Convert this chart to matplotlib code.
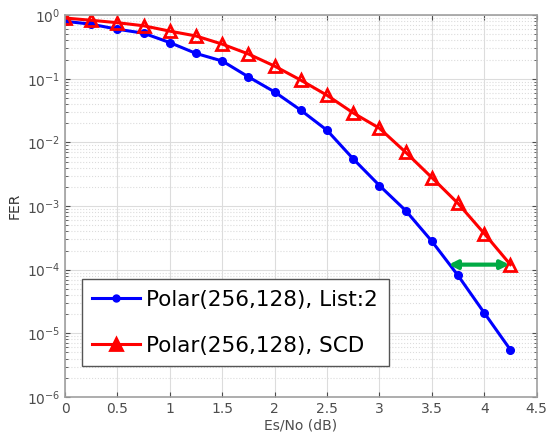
import numpy as np
import matplotlib
matplotlib.use("Agg")
import matplotlib.pyplot as plt

# Es/No points (dB) and FER values
snr_db = [0, 0.25, 0.5, 0.75, 1.0, 1.25, 1.5, 1.75, 2.0, 2.25,
          2.5, 2.75, 3.0, 3.25, 3.5, 3.75, 4.0, 4.25]
fer_list2 = [0.80, 0.72, 0.60, 0.52, 0.37, 0.25, 0.19, 0.107, 0.062, 0.032,
             0.0155, 0.0055, 0.0021, 0.00085, 0.00028, 8.1e-5, 2.1e-5, 5.5e-6]
fer_scd = [0.90, 0.83, 0.76, 0.68, 0.56, 0.47, 0.35, 0.245, 0.158, 0.095,
           0.055, 0.029, 0.0167, 0.0070, 0.0028, 0.0011, 0.00037, 0.00012]

labels = ["Polar(256,128), List:2", "Polar(256,128), SCD"]
xticks = [0, 0.5, 1, 1.5, 2, 2.5, 3, 3.5, 4, 4.5]

# gap arrow between the two curves at FER = 1.2e-4
gap_start, gap_end, gap_fer = 3.66, 4.24, 1.2e-4

fig = plt.figure(figsize=(5.47, 4.45), dpi=100)
ax = fig.add_axes([0.119, 0.108, 0.862, 0.858])

ax.semilogy(snr_db, fer_list2, "-o", color="blue", lw=2.2, ms=5.5,
            label=labels[0])
ax.semilogy(snr_db, fer_scd, "-^", color="red", lw=2.2, ms=8.5,
            mfc="none", mew=2, label=labels[1])

ax.annotate("", xy=(gap_start, gap_fer), xytext=(gap_end, gap_fer),
            arrowprops=dict(arrowstyle="<|-|>", color="#00aa44", lw=3,
                            mutation_scale=12, shrinkA=0, shrinkB=0))

ax.set_xlim(0, 4.5)
ax.set_ylim(1e-6, 1)
ax.set_xticks(xticks)
ax.set_xticklabels([f"{t:g}" for t in xticks])

# only decades inside the view, so no label hangs outside the figure
decades = np.arange(-6, 1)
ax.set_yticks(10.0 ** decades)
ax.set_yticklabels([f"$10^{{{d}}}$" for d in decades])
minor = [m * 10.0 ** d for d in decades[:-1] for m in range(2, 10)]
ax.set_yticks(minor, minor=True)
ax.set_yticklabels([], minor=True)

ax.grid(True, which="major", color="#dcdcdc", lw=0.8)
ax.grid(True, which="minor", axis="y", color="#dcdcdc", ls=":", lw=0.8)
ax.tick_params(which="both", direction="in", colors="#4d4d4d",
               labelsize=10, right=True, top=True)
for s in ax.spines.values():
    s.set_color("#a0a0a0")
    s.set_linewidth(1.2)

ax.set_xlabel("Es/No (dB)", color="#4d4d4d", fontsize=10, labelpad=2)
ax.set_ylabel("FER", color="#333333", fontsize=10, labelpad=4)

leg = ax.legend(loc="lower left", bbox_to_anchor=(0.035, 0.08),
                fontsize=15.5, handlelength=2.2, handletextpad=0.3,
                borderpad=0.5, labelspacing=1.2, fancybox=False,
                framealpha=1, borderaxespad=0)
leg.get_frame().set_edgecolor("#555555")
leg.legend_handles[0].set_markersize(5)
leg.legend_handles[1].set_markerfacecolor("red")

fig.savefig("out.png", dpi=100)
